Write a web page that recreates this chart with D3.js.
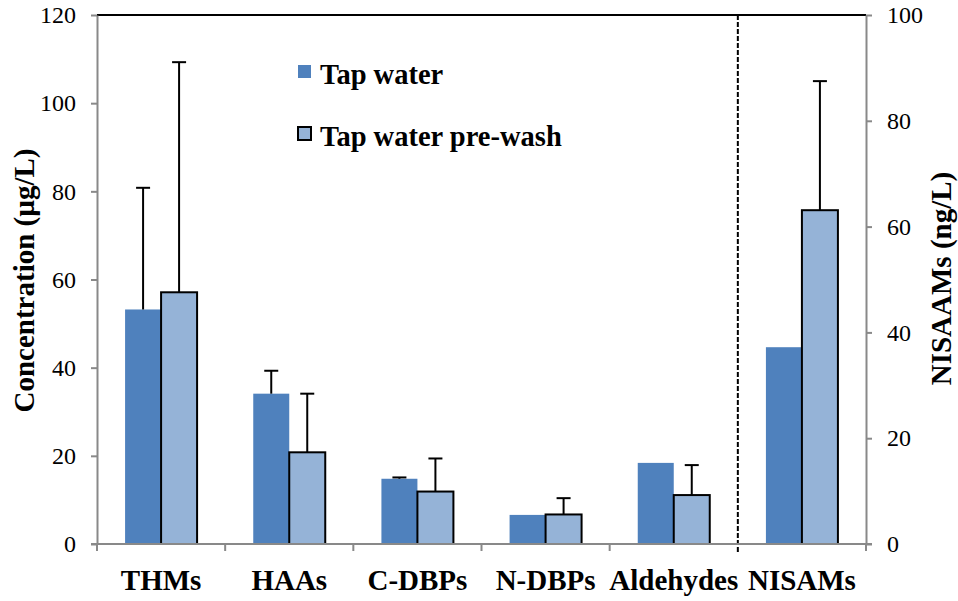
<!DOCTYPE html>
<html>
<head>
<meta charset="utf-8">
<script src="https://cdn.jsdelivr.net/npm/d3@7"></script>
<style>
  body { margin: 0; background: #fff; }
  svg text { font-family: 'Liberation Serif', Tinos, 'Times New Roman', Times, 'DejaVu Serif', 'Noto Serif', serif !important; }
</style>
</head>
<body>
<div id="container"></div>
<script>
const WIDTH = 958;
const HEIGHT = 601;
const MARGIN = { TOP: 15, BOTTOM: 57, LEFT: 97, RIGHT: 92 };
const GROUP_WIDTH = 72;
const CAP = 14;

const DARK = '#4F81BD';
const LIGHT = '#95B3D7';
const AXIS_GREY = '#898989';

// data
const categories = ['THMs', 'HAAs', 'C-DBPs', 'N-DBPs', 'Aldehydes', 'NISAMs'];
const series = ['Tap water', 'Tap water pre-wash'];
const tapWater = [53.2, 34.1, 14.8, 6.6, 18.4, 37.2];
const tapWaterErr = [27.6, 5.2, 0.3, 0, 0, 0];
const preWash = [57.1, 20.8, 11.9, 6.7, 11.1, 63.1];
const preWashErr = [52.2, 13.3, 7.5, 3.7, 6.8, 24.4];
const leftTicks = [0, 20, 40, 60, 80, 100, 120];
const rightTicks = [0, 20, 40, 60, 80, 100];
const rightAxisCategory = 'NISAMs';

const svg = d3.select('#container')
              .append('svg')
                .attr('width', WIDTH)
                .attr('height', HEIGHT);

const xscale = d3.scaleBand()
                 .domain(categories)
                 .range([MARGIN.LEFT, WIDTH - MARGIN.RIGHT]);
const xsub = d3.scaleBand().domain(series).range([0, GROUP_WIDTH]);
const yLeft = d3.scaleLinear().domain([0, 120]).range([HEIGHT - MARGIN.BOTTOM, MARGIN.TOP]);
const yRight = d3.scaleLinear().domain([0, 100]).range([HEIGHT - MARGIN.BOTTOM, MARGIN.TOP]);

const yFor = cat => (cat === rightAxisCategory ? yRight : yLeft);
const groupX = cat => xscale(cat) + (xscale.bandwidth() - GROUP_WIDTH) / 2;

const rows = [];
categories.forEach((cat, i) => {
    rows.push({ cat, s: series[0], v: tapWater[i], err: tapWaterErr[i] });
    rows.push({ cat, s: series[1], v: preWash[i], err: preWashErr[i] });
});

const x0 = xscale.range()[0];
const x1 = xscale.range()[1];
const y0 = yLeft(0);

// top border of the plot area
svg.append('line')
   .attr('x1', x0).attr('x2', x1)
   .attr('y1', yLeft(120)).attr('y2', yLeft(120))
   .attr('stroke', '#000')
   .attr('stroke-width', 2);

// bars
svg.selectAll('rect.bar')
   .data(rows)
   .enter()
   .append('rect')
     .attr('class', 'bar')
     .attr('x', d => groupX(d.cat) + xsub(d.s))
     .attr('y', d => yFor(d.cat)(d.v))
     .attr('width', xsub.bandwidth())
     .attr('height', d => y0 - yFor(d.cat)(d.v))
     .attr('fill', d => (d.s === series[0] ? DARK : LIGHT))
     .attr('stroke', d => (d.s === series[0] ? 'none' : '#000'))
     .attr('stroke-width', 2);

// error bars (upper only)
const errRows = rows.filter(d => d.err > 0);
const errG = svg.append('g').attr('stroke', '#000').attr('stroke-width', 2);
const cx = d => groupX(d.cat) + xsub(d.s) + xsub.bandwidth() / 2;

errG.selectAll('line.stem')
    .data(errRows)
    .enter()
    .append('line')
      .attr('x1', cx).attr('x2', cx)
      .attr('y1', d => yFor(d.cat)(d.v))
      .attr('y2', d => yFor(d.cat)(d.v + d.err));

errG.selectAll('line.cap')
    .data(errRows)
    .enter()
    .append('line')
      .attr('x1', d => cx(d) - CAP / 2)
      .attr('x2', d => cx(d) + CAP / 2)
      .attr('y1', d => yFor(d.cat)(d.v + d.err))
      .attr('y2', d => yFor(d.cat)(d.v + d.err));

// dashed separator before the NISAMs group
svg.append('line')
   .attr('x1', xscale(rightAxisCategory)).attr('x2', xscale(rightAxisCategory))
   .attr('y1', yLeft(120)).attr('y2', y0 + 8)
   .attr('stroke', '#000')
   .attr('stroke-width', 2)
   .attr('stroke-dasharray', '5,2');

// axes
const styleAxis = g => {
    g.attr('font-family', null);
    g.selectAll('.domain').attr('stroke', AXIS_GREY).attr('stroke-width', 2);
    g.selectAll('.tick line').attr('stroke', AXIS_GREY).attr('stroke-width', 2);
    g.selectAll('text').attr('fill', '#000');
};

svg.append('g')
   .attr('transform', `translate(${x0}, 0)`)
   .call(d3.axisLeft(yLeft).tickValues(leftTicks).tickSize(6).tickSizeOuter(0).tickPadding(15))
   .call(styleAxis)
   .selectAll('text').style('font-size', '24px');

svg.append('g')
   .attr('transform', `translate(${x1}, 0)`)
   .call(d3.axisRight(yRight).tickValues(rightTicks).tickSize(6).tickSizeOuter(0).tickPadding(15))
   .call(styleAxis)
   .selectAll('text').style('font-size', '24px');

// bottom axis: line, boundary ticks, labels at centres
const boundaries = categories.map(c => xscale(c)).concat([x1])
                             .filter(b => b !== xscale(rightAxisCategory));

svg.append('line')
   .attr('x1', x0 - 6).attr('x2', x1 + 6)
   .attr('y1', y0).attr('y2', y0)
   .attr('stroke', AXIS_GREY)
   .attr('stroke-width', 2);

svg.selectAll('line.btick')
   .data(boundaries)
   .enter()
   .append('line')
     .attr('x1', d => d).attr('x2', d => d)
     .attr('y1', y0).attr('y2', y0 + 7)
     .attr('stroke', AXIS_GREY)
     .attr('stroke-width', 2);

svg.append('g')
   .attr('transform', `translate(0, ${y0})`)
   .call(d3.axisBottom(xscale).tickSize(0).tickPadding(25))
   .call(g => g.select('.domain').remove())
   .call(styleAxis)
   .selectAll('text')
     .style('font-size', '29px')
     .style('font-weight', 'bold');

// axis titles
svg.append('text')
   .attr('transform', `translate(34, ${(yLeft(120) + y0) / 2 + 1}) rotate(-90)`)
   .attr('text-anchor', 'middle')
   .style('font-size', '29px')
   .style('font-weight', 'bold')
   .text('Concentration (µg/L)');

svg.append('text')
   .attr('transform', `translate(951, ${(yLeft(120) + y0) / 2 - 1}) rotate(-90)`)
   .attr('text-anchor', 'middle')
   .style('font-size', '29px')
   .style('font-weight', 'bold')
   .text('NISAAMs (ng/L)');

// legend
const legend = svg.append('g').attr('transform', 'translate(298, 65)');

legend.selectAll('rect')
      .data(series)
      .enter()
      .append('rect')
        .attr('x', 0)
        .attr('y', (d, i) => i * 62)
        .attr('width', 13)
        .attr('height', 13)
        .attr('fill', (d, i) => (i === 0 ? DARK : LIGHT))
        .attr('stroke', (d, i) => (i === 0 ? 'none' : '#000'))
        .attr('stroke-width', 2);

legend.selectAll('text')
      .data(series)
      .enter()
      .append('text')
        .attr('x', 22)
        .attr('y', (d, i) => 19 + i * 62)
        .style('font-size', '28.5px')
        .style('font-weight', 'bold')
        .text(d => d);
</script>
</body>
</html>
